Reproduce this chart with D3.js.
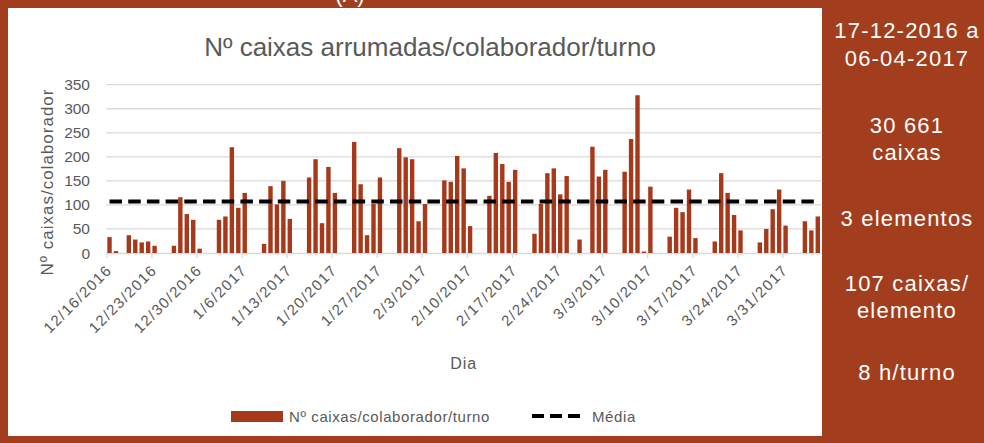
<!DOCTYPE html>
<html>
<head>
<meta charset="utf-8">
<script src="https://cdn.jsdelivr.net/npm/d3@7"></script>
<style>
body { margin: 0; background: #a23e1e; }
svg { display: block; }
</style>
</head>
<body>
<svg width="984" height="443"></svg>
<script>
// daily values (days without bars are left out)
var dias = [
  "2016-12-16","2016-12-17","2016-12-19","2016-12-20","2016-12-21","2016-12-22","2016-12-23",
  "2016-12-26","2016-12-27","2016-12-28","2016-12-29","2016-12-30",
  "2017-01-02","2017-01-03","2017-01-04","2017-01-05","2017-01-06",
  "2017-01-09","2017-01-10","2017-01-11","2017-01-12","2017-01-13",
  "2017-01-16","2017-01-17","2017-01-18","2017-01-19","2017-01-20",
  "2017-01-23","2017-01-24","2017-01-25","2017-01-26","2017-01-27",
  "2017-01-30","2017-01-31","2017-02-01","2017-02-02","2017-02-03",
  "2017-02-06","2017-02-07","2017-02-08","2017-02-09","2017-02-10",
  "2017-02-13","2017-02-14","2017-02-15","2017-02-16","2017-02-17",
  "2017-02-20","2017-02-21","2017-02-22","2017-02-23","2017-02-24","2017-02-25","2017-02-27",
  "2017-03-01","2017-03-02","2017-03-03",
  "2017-03-06","2017-03-07","2017-03-08","2017-03-09","2017-03-10",
  "2017-03-13","2017-03-14","2017-03-15","2017-03-16","2017-03-17",
  "2017-03-20","2017-03-21","2017-03-22","2017-03-23","2017-03-24",
  "2017-03-27","2017-03-28","2017-03-29","2017-03-30","2017-03-31",
  "2017-04-03","2017-04-04","2017-04-05"
];
var caixas = [
  33, 4, 37, 28, 22, 24, 15,
  15, 116, 81, 69, 9,
  69, 76, 220, 94, 125,
  19, 139, 101, 150, 71,
  157, 195, 62, 179, 125,
  231, 143, 37, 102, 157,
  218, 199, 195, 66, 102,
  151, 148, 202, 176, 56,
  119, 208, 185, 148, 173,
  40, 102, 166, 176, 122, 160, 28,
  221, 159, 173,
  169, 237, 328, 3, 138,
  34, 94, 85, 132, 31,
  24, 166, 125, 79, 47,
  22, 50, 91, 132, 57,
  66, 47, 76
];
var media = 107;
var yTicks = [0, 50, 100, 150, 200, 250, 300, 350];
var painel = ["17-12-2016 a", "06-04-2017", "30 661", "caixas", "3 elementos",
  "107 caixas/", "elemento", "8 h/turno"];

var parse = d3.utcParse("%Y-%m-%d");
var data = dias.map(function(d, i) { return {dia: parse(d), v: caixas[i]}; });

var svg = d3.select("svg");
var cinza = "#595959";
var fonte = "'Liberation Sans', Arial, sans-serif";

// white chart box
svg.append("rect")
  .attr("x", 8).attr("y", 8)
  .attr("width", 814).attr("height", 428)
  .attr("fill", "#fff");

// cut-off heading at the top
svg.append("text")
  .attr("x", 350).attr("y", 2)
  .attr("text-anchor", "middle")
  .attr("fill", "#fff")
  .attr("font-family", fonte)
  .attr("font-size", 22)
  .text("(A)");

var x = d3.scaleUtc()
  .domain([parse("2016-12-16"), parse("2017-04-06")])
  .range([106.3, 821]);
var y = d3.scaleLinear().domain([0, 350]).range([253, 84.7]);

var slot = x(parse("2016-12-17")) - x(parse("2016-12-16"));
var bw = 4.4;

// gridlines
svg.append("g").selectAll("line")
  .data(yTicks.slice(1))
  .enter().append("line")
  .attr("x1", x.range()[0]).attr("x2", x.range()[1])
  .attr("y1", function(d) { return y(d); })
  .attr("y2", function(d) { return y(d); })
  .attr("stroke", "#d9d9d9")
  .attr("stroke-width", 1.3);

// y axis labels
svg.append("g").selectAll("text")
  .data(yTicks)
  .enter().append("text")
  .attr("x", 90)
  .attr("y", function(d) { return y(d) + 5.5; })
  .attr("text-anchor", "end")
  .attr("fill", cinza)
  .attr("font-family", fonte)
  .attr("font-size", 15.5)
  .text(function(d) { return d; });

// x axis
var xTicks = d3.utcDay.range(parse("2016-12-16"), parse("2017-04-01"), 7);
var fmt = d3.utcFormat("%-m/%-d/%Y");
var xAxis = svg.append("g")
  .attr("transform", "translate(0,253)")
  .call(d3.axisBottom(x).tickValues(xTicks).tickSize(5).tickSizeOuter(0).tickFormat(fmt));
xAxis.select(".domain").attr("stroke", "#d9d9d9").attr("stroke-width", 1.3);
xAxis.selectAll(".tick line").attr("stroke", "#d9d9d9").attr("stroke-width", 1.3);
xAxis.selectAll(".tick text")
  .attr("fill", cinza)
  .attr("font-family", fonte)
  .attr("font-size", 15)
  .attr("letter-spacing", 1.4)
  .attr("text-anchor", "end")
  .attr("dy", null)
  .attr("y", 0)
  .attr("transform", "translate(6,18) rotate(-45)");

// bars
svg.append("g").selectAll("rect")
  .data(data)
  .enter().append("rect")
  .attr("x", function(d) { return x(d.dia) + (slot - bw) / 2; })
  .attr("y", function(d) { return y(d.v); })
  .attr("width", bw)
  .attr("height", function(d) { return y(0) - y(d.v); })
  .attr("fill", "#a6391a");

// average line
var ini = data[0].dia, fim = data[data.length - 1].dia;
svg.append("line")
  .attr("x1", x(ini) + slot / 2).attr("x2", x(fim) + slot / 2 - 4)
  .attr("y1", y(media)).attr("y2", y(media))
  .attr("stroke", "#000")
  .attr("stroke-width", 4)
  .attr("stroke-dasharray", "12.5,6.2");

// titles
svg.append("text")
  .attr("x", 430).attr("y", 56)
  .attr("text-anchor", "middle")
  .attr("fill", cinza)
  .attr("font-family", fonte)
  .attr("font-size", 26)
  .text("Nº caixas arrumadas/colaborador/turno");

svg.append("text")
  .attr("transform", "translate(53,182) rotate(-90)")
  .attr("text-anchor", "middle")
  .attr("fill", cinza)
  .attr("font-family", fonte)
  .attr("font-size", 17)
  .attr("letter-spacing", 1)
  .text("Nº caixas/colaborador");

svg.append("text")
  .attr("x", (x.range()[0] + x.range()[1]) / 2).attr("y", 369)
  .attr("text-anchor", "middle")
  .attr("fill", cinza)
  .attr("font-family", fonte)
  .attr("font-size", 16)
  .attr("letter-spacing", 1)
  .text("Dia");

// legend
var leg = svg.append("g").attr("font-family", fonte).attr("font-size", 15)
  .attr("letter-spacing", 0.6).attr("fill", cinza);
leg.append("rect")
  .attr("x", 231).attr("y", 411)
  .attr("width", 52).attr("height", 11)
  .attr("fill", "#a6391a");
leg.append("text").attr("x", 289).attr("y", 421.5).text("Nº caixas/colaborador/turno");
leg.append("line")
  .attr("x1", 532).attr("x2", 580)
  .attr("y1", 416).attr("y2", 416)
  .attr("stroke", "#000").attr("stroke-width", 4)
  .attr("stroke-dasharray", "12,6");
leg.append("text").attr("x", 592).attr("y", 421.5).text("Média");

// right panel
var linhasY = [38, 66, 133, 160, 226, 291, 318, 380];
svg.append("g").selectAll("text")
  .data(painel)
  .enter().append("text")
  .attr("x", 907)
  .attr("y", function(d, i) { return linhasY[i]; })
  .attr("text-anchor", "middle")
  .attr("fill", "#fff")
  .attr("font-family", fonte)
  .attr("font-size", 22)
  .attr("letter-spacing", 1.2)
  .text(function(d) { return d; });
</script>
</body>
</html>
